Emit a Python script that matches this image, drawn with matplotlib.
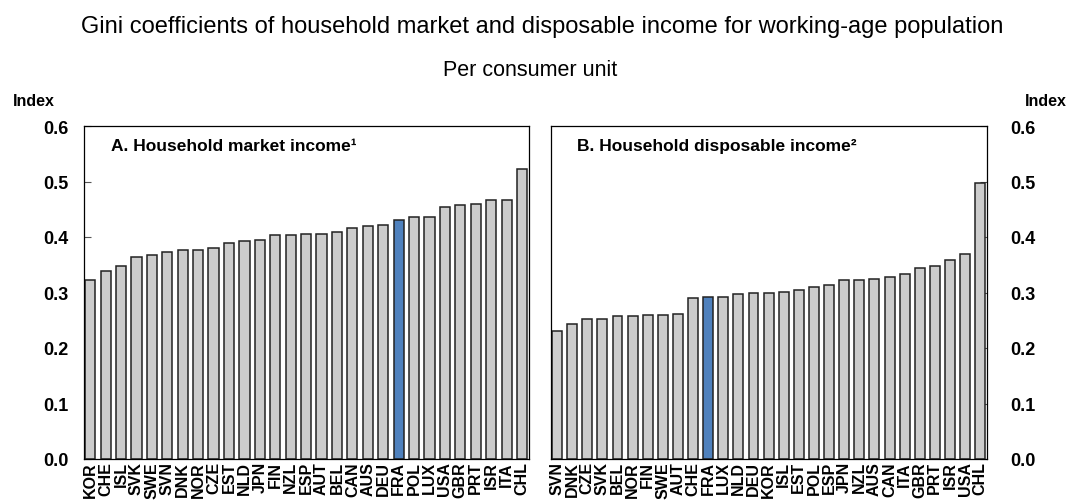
import matplotlib
matplotlib.use("Agg")
import matplotlib.pyplot as plt

plt.rcParams['font.family'] = ['Liberation Sans', 'DejaVu Sans']

cats_a = ["KOR", "CHE", "ISL", "SVK", "SWE", "SVN", "DNK", "NOR", "CZE", "EST",
          "NLD", "JPN", "FIN", "NZL", "ESP", "AUT", "BEL", "CAN", "AUS", "DEU",
          "FRA", "POL", "LUX", "USA", "GBR", "PRT", "ISR", "ITA", "CHL"]
vals_a = [0.323, 0.338, 0.347, 0.364, 0.368, 0.373, 0.376, 0.377, 0.381, 0.390,
          0.392, 0.394, 0.404, 0.404, 0.405, 0.406, 0.409, 0.417, 0.419, 0.421,
          0.431, 0.436, 0.436, 0.454, 0.457, 0.460, 0.466, 0.466, 0.523]

cats_b = ["SVN", "DNK", "CZE", "SVK", "BEL", "NOR", "FIN", "SWE", "AUT", "CHE",
          "FRA", "LUX", "NLD", "DEU", "KOR", "ISL", "EST", "POL", "ESP", "JPN",
          "NZL", "AUS", "CAN", "ITA", "GBR", "PRT", "ISR", "USA", "CHL"]
vals_b = [0.230, 0.244, 0.253, 0.253, 0.257, 0.257, 0.259, 0.260, 0.261, 0.290,
          0.291, 0.291, 0.298, 0.299, 0.299, 0.301, 0.305, 0.310, 0.314, 0.323,
          0.323, 0.324, 0.328, 0.334, 0.344, 0.347, 0.359, 0.370, 0.498]

yticks = [0.0, 0.1, 0.2, 0.3, 0.4, 0.5, 0.6]
title = "Gini coefficients of household market and disposable income for working-age population"
subtitle = "Per consumer unit"
panel_a = "A. Household market income\u00b9"
panel_b = "B. Household disposable income\u00b2"
highlight = "FRA"

W, H = 1070, 502
fig = plt.figure(figsize=(W / 100, H / 100), dpi=100)

def px_axes(l, t, r, b):
    return fig.add_axes([l / W, 1 - b / H, (r - l) / W, (b - t) / H])

ax_a = px_axes(84, 127, 529, 460)
ax_b = px_axes(551, 127, 987, 460)

grey = "#CCCCCC"
blue = "#4F81BD"

for ax, cats, vals, ptitle in [(ax_a, cats_a, vals_a, panel_a), (ax_b, cats_b, vals_b, panel_b)]:
    x = list(range(len(cats)))
    colors = [blue if c == highlight else grey for c in cats]
    ax.bar(x, vals, width=0.66, color=colors, edgecolor="#222222", linewidth=1.1, zorder=2)
    ax.set_xlim(-0.4, len(cats) - 0.55)
    ax.set_ylim(0, 0.6)
    ax.set_xticks(x)
    ax.set_xticklabels(cats, rotation=90, fontsize=11.5, fontweight="bold")
    ax.tick_params(axis="x", length=0, pad=1.5)
    ax.set_yticks(yticks)
    for sp in ax.spines.values():
        sp.set_linewidth(0.9)
        sp.set_color("black")
    ax.text(0.06, 0.963, ptitle, transform=ax.transAxes, fontsize=12.5, fontweight="bold",
            va="top", ha="left")

ax_a.tick_params(axis="y", direction="in", length=5, width=0.8, color="#555555",
                 labelsize=13, pad=11, left=True, right=False)
ax_a.set_yticklabels([f"{v:.1f}" for v in yticks], fontweight="bold")

ax_b.yaxis.tick_right()
ax_b.tick_params(axis="y", direction="in", length=5, width=0.8, color="#555555",
                 labelsize=13, pad=17, left=False, right=True)
ax_b.set_yticklabels([f"{v:.1f}" for v in yticks], fontweight="bold")

fig.text(13 / W, 1 - 102 / H, "Index", fontsize=11.5, fontweight="bold", ha="left", va="center")
fig.text(1067 / W, 1 - 102 / H, "Index", fontsize=11.5, fontweight="bold", ha="right", va="center")

fig.text(542 / W, 1 - 27 / H, title, fontsize=17, ha="center", va="center")
fig.text(530 / W, 1 - 70 / H, subtitle, fontsize=15.5, ha="center", va="center")

fig.savefig("out.png", dpi=100)
